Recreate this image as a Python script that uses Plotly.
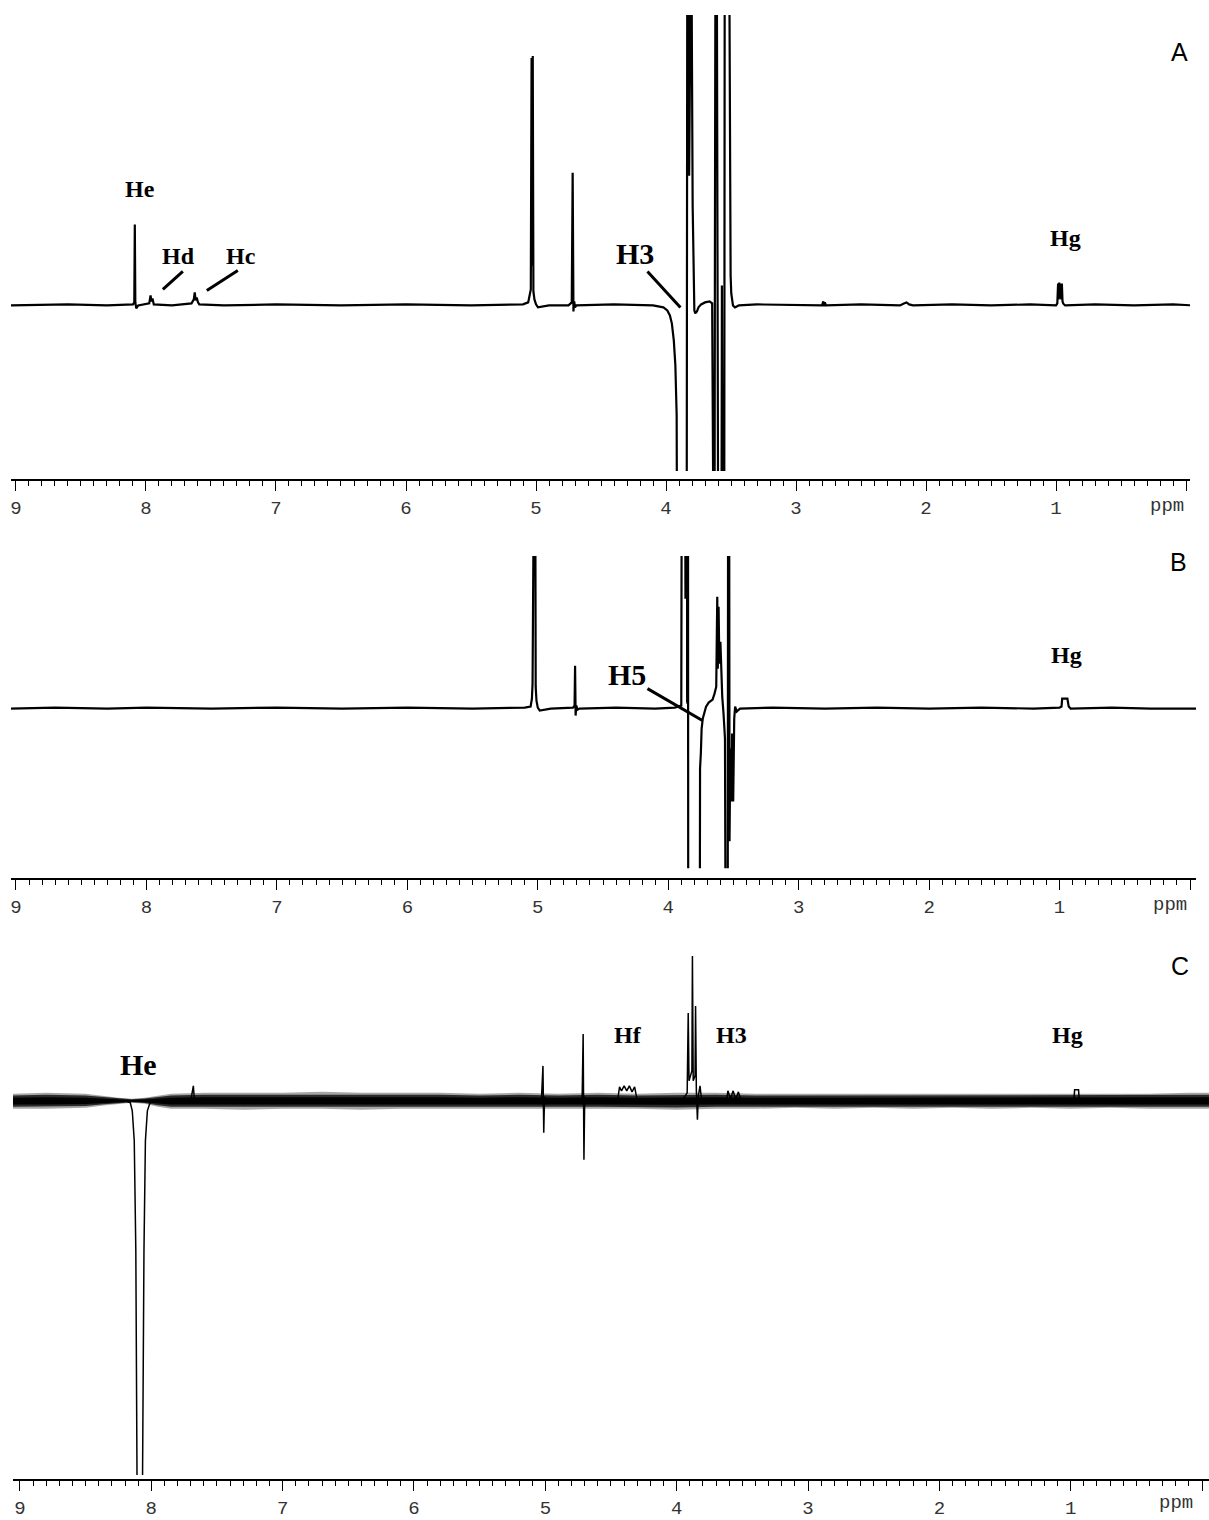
import plotly.graph_objects as go

W, H = 1209, 1520

# ---------------- data (ppm, intensity) ----------------
# Panel A (intensity in arbitrary units, baseline 0; values beyond the frame are clipped)
spec_a = [
    (9.05, 0), (8.60, 1), (8.30, 0), (8.10, 1), (8.09, 3), (8.086, 81), (8.082, 3), (8.075, -3),
    (8.06, 0), (8.00, 1), (7.975, 2), (7.965, 10), (7.958, 4), (7.950, 7), (7.940, 1), (7.80, 0),
    (7.65, 2), (7.632, 6), (7.625, 13), (7.618, 5), (7.610, 8), (7.600, 3), (7.590, 1), (7.40, 0),
    (7.00, 1), (6.50, 0), (6.00, 1), (5.50, 0), (5.10, 1), (5.060, 3), (5.048, 14), (5.040, 16),
    (5.034, 248), (5.030, 40), (5.025, 250), (5.020, 14), (5.012, 6), (5.000, 1), (4.985, -2),
    (4.90, 0), (4.75, 0), (4.725, 3), (4.718, 133), (4.712, -6), (4.706, 4), (4.700, -2), (4.690, 0),
    (4.40, 1), (4.10, 0), (4.02, -2), (3.99, -5), (3.97, -10), (3.955, -18), (3.94, -35),
    (3.928, -60), (3.918, -110), (3.912, -400), (3.842, -400), (3.836, 400), (3.828, 400),
    (3.822, 130), (3.816, 400), (3.806, 400), (3.795, 100), (3.782, -5), (3.775, -8), (3.762, -6),
    (3.750, -2), (3.730, 1), (3.700, 3), (3.665, 4), (3.645, 2), (3.638, -400), (3.628, -400),
    (3.624, 30), (3.619, 400), (3.610, 400), (3.604, 20), (3.596, -400), (3.575, -400), (3.570, 20),
    (3.562, -400), (3.553, -400), (3.548, 400), (3.515, 400), (3.508, 60), (3.503, 30), (3.498, 12),
    (3.492, 4), (3.485, 0), (3.470, -2), (3.440, 0), (3.30, 1), (3.00, 0), (2.800, 0), (2.790, 4),
    (2.784, -1), (2.778, 3), (2.770, 0), (2.50, 1), (2.20, 0), (2.17, 2), (2.15, 3), (2.13, 1),
    (2.10, 0), (1.80, 1), (1.50, 0), (1.20, 1), (1.00, 0), (0.990, 2), (0.984, 22), (0.980, 6),
    (0.975, 23), (0.970, 7), (0.965, 22), (0.960, 6), (0.955, 22), (0.950, 4), (0.945, 2),
    (0.930, 0), (0.70, 1), (0.40, 0), (0.10, 1), (-0.05, 0),
]

# Panel B
spec_b = [
    (9.05, 0), (8.70, 1), (8.30, 0), (8.00, 1), (7.50, 0), (7.00, 1), (6.50, 0), (6.00, 1),
    (5.50, 0), (5.10, 1), (5.055, 2), (5.045, 10), (5.040, 25), (5.034, 400), (5.022, 400),
    (5.016, 22), (5.010, 8), (5.000, 1), (4.985, -2), (4.90, 0), (4.73, 1), (4.718, 3),
    (4.714, 43), (4.710, -7), (4.705, 3), (4.695, -1), (4.680, 0), (4.40, 1), (4.10, 0),
    (3.95, 1), (3.900, 3), (3.894, 400), (3.872, 400), (3.868, 110), (3.862, 400), (3.857, 400),
    (3.855, 7), (3.851, 5), (3.849, 400), (3.846, -400), (3.760, -400), (3.756, -60), (3.750, -45),
    (3.744, -20), (3.735, -10), (3.725, -4), (3.710, 2), (3.690, 6), (3.660, 9), (3.645, 15),
    (3.632, 22), (3.624, 112), (3.620, 40), (3.614, 102), (3.608, 45), (3.600, 67), (3.594, 30),
    (3.586, 12), (3.576, -5), (3.565, -30), (3.556, -400), (3.545, -400), (3.540, 400),
    (3.534, 400), (3.530, -133), (3.524, -40), (3.516, -93), (3.510, -25), (3.502, -93),
    (3.494, -10), (3.487, 2), (3.475, -3), (3.45, 0), (3.20, 1), (2.80, 0), (2.40, 1), (2.00, 0),
    (1.60, 1), (1.20, 0), (1.00, 1), (0.985, 2), (0.980, 10), (0.960, 10), (0.940, 10),
    (0.930, 2), (0.915, 0), (0.60, 1), (0.30, 0), (-0.05, 0),
]

# Panel C
spec_c = [
    (9.06, 0), (8.50, 0), (8.20, 0), (8.16, -2), (8.145, -10), (8.13, -40), (8.118, -150),
    (8.108, -400), (8.068, -400), (8.056, -150), (8.045, -40), (8.03, -10), (8.01, -2), (7.98, 0),
    (7.70, 0), (7.680, 15), (7.672, 0), (7.00, 0), (5.03, 0), (5.018, 35), (5.012, -32),
    (5.006, 4), (4.995, 0), (4.72, 0), (4.712, 67), (4.706, -59), (4.700, 4), (4.690, 0),
    (4.45, 0), (4.435, 14), (4.42, 10), (4.40, 15), (4.38, 10), (4.36, 15), (4.34, 9), (4.32, 14),
    (4.30, 0), (3.95, 2), (3.920, 8), (3.912, 88), (3.906, 20), (3.884, 30), (3.880, 145),
    (3.874, 20), (3.860, 25), (3.856, 95), (3.850, 10), (3.842, -19), (3.835, 5), (3.822, 15),
    (3.810, 0), (3.62, 0), (3.610, 10), (3.59, 2), (3.57, 10), (3.55, 1), (3.53, 9), (3.51, 0),
    (1.00, 0), (0.975, 1), (0.970, 11), (0.955, 11), (0.940, 11), (0.935, 1), (0.900, 0),
    (-0.06, 0),
]

# Panel C noise envelope
noise_ppm = [9.06, 8.8, 8.5, 8.38, 8.25, 8.15, 8.05, 7.95, 7.85,
             7.6, 7.3, 7.0, 6.7, 6.4, 6.1, 5.8, 5.5, 5.2, 4.9,
             4.6, 4.3, 4.0, 3.7, 3.4, 3.1, 2.8, 2.5, 2.2, 1.9,
             1.6, 1.3, 1.0, 0.7, 0.4, 0.1, -0.06]
noise_up = [7, 8, 7, 5, 3, 2, 3, 5, 7,
            8, 8, 8, 9, 8, 8, 8, 7, 8, 7,
            8, 7, 8, 8, 7, 7, 7, 7, 7, 7,
            7, 7, 7, 7, 7, 8, 8]
noise_dn = [-8, -8, -7, -5, -3, -2, -3, -6, -8,
            -8, -9, -8, -8, -9, -8, -8, -8, -8, -8,
            -8, -8, -9, -8, -8, -7, -8, -7, -8, -7,
            -8, -7, -8, -7, -8, -8, -8]

major_ticks = [0, 1, 2, 3, 4, 5, 6, 7, 8, 9]
major_text = ["", "1", "2", "3", "4", "5", "6", "7", "8", "9"]

assert len(noise_ppm) == len(noise_up) == len(noise_dn)

# ---------------- figure ----------------
fig = go.Figure()


def unzip(pairs):
    return [p[0] for p in pairs], [p[1] for p in pairs]


line_style = dict(color="black", width=2.2)
for spec, xa, ya in [(spec_a, "x", "y"), (spec_b, "x2", "y2")]:
    xs, ys = unzip(spec)
    fig.add_trace(go.Scatter(x=xs, y=ys, mode="lines", line=line_style,
                             xaxis=xa, yaxis=ya, hoverinfo="skip", showlegend=False))

# noise band panel C (three layers for a fuzzy edge)
for frac, alpha in [(1.0, 0.35), (0.75, 0.75), (0.45, 1.0)]:
    up = [v * frac for v in noise_up]
    dn = [v * frac for v in noise_dn]
    fig.add_trace(go.Scatter(x=noise_ppm + noise_ppm[::-1], y=up + dn[::-1],
                             fill="toself", fillcolor=f"rgba(0,0,0,{alpha})", mode="lines",
                             line=dict(width=0), xaxis="x3", yaxis="y3", hoverinfo="skip",
                             showlegend=False))
xs, ys = unzip(spec_c)
fig.add_trace(go.Scatter(x=xs, y=ys, mode="lines", line=dict(color="black", width=1.5),
                         xaxis="x3", yaxis="y3", hoverinfo="skip", showlegend=False))


def fy(ypx):
    return 1 - ypx / H


def fx(xpx):
    return xpx / W


tickfont = dict(family="Liberation Mono, Courier New, monospace", size=19, color="#333")


def xaxis_cfg(x0px, x1px, r0, r1, axis_y):
    return dict(
        domain=[fx(x0px), fx(x1px)], range=[r0, r1], anchor="free", position=fy(axis_y),
        showline=True, linecolor="black", linewidth=1.5, mirror=False,
        ticks="outside", ticklen=10, tickwidth=1, tickcolor="black",
        tickmode="array", tickvals=major_ticks, ticktext=major_text, tickfont=tickfont,
        minor=dict(tickmode="linear", tick0=0, dtick=0.1, ticks="outside", ticklen=5,
                   tickwidth=1, tickcolor="black", showgrid=False),
        showgrid=False, zeroline=False, fixedrange=True,
    )


def yaxis_cfg(top_px, bot_px, lo, hi):
    return dict(domain=[fy(bot_px), fy(top_px)], range=[lo, hi], visible=False,
                showgrid=False, zeroline=False, fixedrange=True)


# px-per-ppm: A 130.1 (9->15, 0->1186); B 130.6 (9->15, 0->1190); C 131.4 (9->19, 0->1202)
fig.update_layout(
    width=W, height=H, margin=dict(l=0, r=0, t=0, b=0),
    paper_bgcolor="white", plot_bgcolor="white",
    xaxis=xaxis_cfg(10, 1190, 9 + 5 / 130.1, -4 / 130.1, 481),
    yaxis=dict(yaxis_cfg(15, 472, -166, 291), anchor="x"),
    xaxis2=xaxis_cfg(10, 1196, 9 + 5 / 130.6, -6 / 130.6, 881),
    yaxis2=dict(yaxis_cfg(557, 870, -160, 153), anchor="x2"),
    xaxis3=xaxis_cfg(12, 1209, 9 + 7 / 131.4, -7 / 131.4, 1483),
    yaxis3=dict(yaxis_cfg(958, 1478, -375, 145), anchor="x3"),
)

serif = "Liberation Serif, Times New Roman, serif"
sans = "Liberation Sans, Arial, sans-serif"
mono = "Liberation Mono, Courier New, monospace"

labels = [
    # text, x px, y px, size, family
    ("<b>He</b>", 139, 189, 24, serif),
    ("<b>Hd</b>", 178, 257, 24, serif),
    ("<b>Hc</b>", 240, 257, 24, serif),
    ("<b>H3</b>", 635, 254, 30, serif),
    ("<b>Hg</b>", 1065, 238, 24, serif),
    ("A", 1179, 52, 25, sans),
    ("<b>H5</b>", 627, 676, 30, serif),
    ("<b>Hg</b>", 1066, 656, 24, serif),
    ("B", 1178, 563, 25, sans),
    ("<b>He</b>", 138, 1067, 30, serif),
    ("<b>Hf</b>", 628, 1037, 24, serif),
    ("<b>H3</b>", 731, 1037, 24, serif),
    ("<b>Hg</b>", 1067, 1037, 24, serif),
    ("C", 1180, 968, 25, sans),
    ("ppm", 1167, 507, 19, mono),
    ("ppm", 1170, 907, 19, mono),
    ("ppm", 1176, 1506, 19, mono),
]
for t, x, y, s, fam in labels:
    col = "#333" if t == "ppm" else "black"
    fig.add_annotation(text=t, x=fx(x), y=fy(y), xref="paper", yref="paper",
                       showarrow=False, xanchor="center", yanchor="middle",
                       font=dict(family=fam, size=s, color=col))

leaders = [
    (182, 272, 162, 290),
    (237, 271, 206, 291),
    (647, 272, 680, 308),
    (647, 690, 702, 722),
]
for x0, y0, x1, y1 in leaders:
    fig.add_shape(type="line", xref="paper", yref="paper",
                  x0=fx(x0), y0=fy(y0), x1=fx(x1), y1=fy(y1),
                  line=dict(color="black", width=3))

fig.write_html("out.html")
